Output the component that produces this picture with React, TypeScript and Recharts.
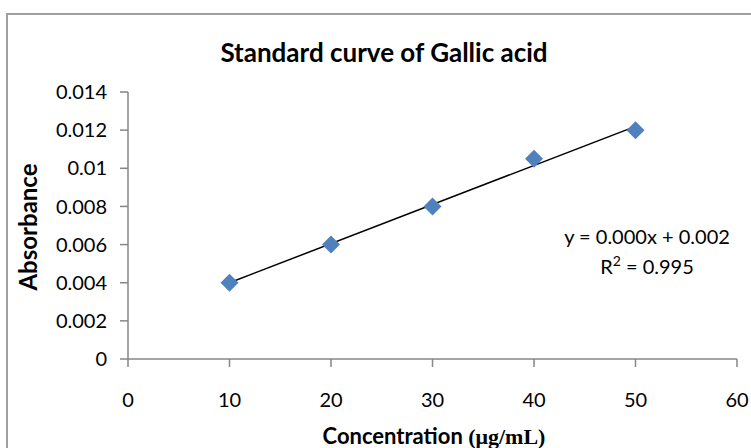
import React from 'react';
import { ScatterChart, Scatter, XAxis, YAxis, ReferenceLine, Customized } from 'recharts';

const concentrations = [10, 20, 30, 40, 50];
const absorbances = [0.004, 0.006, 0.008, 0.0105, 0.012];
const xTicks = [0, 10, 20, 30, 40, 50, 60];
const yTicks = [0, 0.002, 0.004, 0.006, 0.008, 0.01, 0.012, 0.014];
const yTickLabels = ['0', '0.002', '0.004', '0.006', '0.008', '0.01', '0.012', '0.014'];
const trendStart = { x: 10, y: 0.004 };
const trendEnd = { x: 50, y: 0.0122 };
const chartTitle = 'Standard curve of Gallic acid';
const xTitle = 'Concentration ';
const xUnit = '(μg/mL)';
const yTitle = 'Absorbance';
const equation = 'y = 0.000x + 0.002';
const rSquared = ' = 0.995';

const points = concentrations.map((c, i) => ({ x: c, y: absorbances[i] }));

const FONT = 'Lato, "Open Sans", sans-serif';
const AXIS = '#868686';

const Diamond = (props: any) => {
  const { cx, cy } = props;
  const r = 9;
  return (
    <path
      d={`M${cx},${cy - r}L${cx + r},${cy}L${cx},${cy + r}L${cx - r},${cy}Z`}
      fill="#4F81BD"
    />
  );
};

const Texts = () => (
  <g>
    <text x={384} y={62} textAnchor="middle" fontFamily={FONT} fontWeight="bold" fontSize={26} fill="#000">
      {chartTitle}
    </text>
    <text
      x={27}
      y={227}
      textAnchor="middle"
      dominantBaseline="central"
      transform="rotate(-90 27 227)"
      fontFamily={FONT}
      fontWeight="bold"
      fontSize={24}
      fill="#000"
    >
      {yTitle}
    </text>
    <text x={434} y={444} textAnchor="middle" fontFamily={FONT} fontWeight="bold" fontSize={22} fill="#000">
      <tspan>{xTitle}</tspan>
      <tspan fontFamily='"Liberation Serif", serif'>{xUnit}</tspan>
    </text>
    <text x={647} y={244} textAnchor="middle" fontFamily={FONT} fontSize={20} fill="#000">
      {equation}
    </text>
    <text x={647} y={274} textAnchor="middle" fontFamily={FONT} fontSize={20} fill="#000">
      <tspan>R</tspan>
      <tspan dy={-8} fontSize={14}>2</tspan>
      <tspan dy={8}>{rSquared}</tspan>
    </text>
  </g>
);

export default function App() {
  return (
    <div style={{ position: 'absolute', left: 0, top: 0, width: 751, height: 448, overflow: 'hidden', background: '#fff' }}>
      <div
        style={{
          position: 'absolute',
          left: 6,
          top: 13,
          width: 900,
          height: 600,
          border: '2px solid #a0a0a0',
          boxSizing: 'border-box',
        }}
      />
      <div style={{ position: 'absolute', left: 0, top: 0 }}>
        <ScatterChart width={751} height={448} margin={{ top: 92, right: 14, bottom: 49, left: 48 }}>
          <XAxis
            type="number"
            dataKey="x"
            domain={[0, 60]}
            ticks={xTicks}
            interval={0}
            height={40}
            tickSize={8}
            tickMargin={26}
            axisLine={{ stroke: AXIS, strokeWidth: 1.5 }}
            tickLine={{ stroke: AXIS, strokeWidth: 1.5 }}
            tick={{ fill: '#000', fontSize: 20, fontFamily: FONT }}
          />
          <YAxis
            type="number"
            dataKey="y"
            domain={[0, 0.014]}
            ticks={yTicks}
            interval={0}
            width={80}
            tickSize={8}
            tickMargin={13}
            tickFormatter={(v: number) => yTickLabels[yTicks.findIndex((t) => Math.abs(t - v) < 1e-9)] ?? String(v)}
            axisLine={{ stroke: AXIS, strokeWidth: 1.5 }}
            tickLine={{ stroke: AXIS, strokeWidth: 1.5 }}
            tick={{ fill: '#000', fontSize: 20, fontFamily: FONT }}
          />
          <ReferenceLine
            segment={[trendStart, trendEnd]}
            stroke="#000"
            strokeWidth={1.5}
            ifOverflow="visible"
          />
          <Scatter data={points} shape={<Diamond />} isAnimationActive={false} />
          <Customized component={Texts} />
        </ScatterChart>
      </div>
    </div>
  );
}
